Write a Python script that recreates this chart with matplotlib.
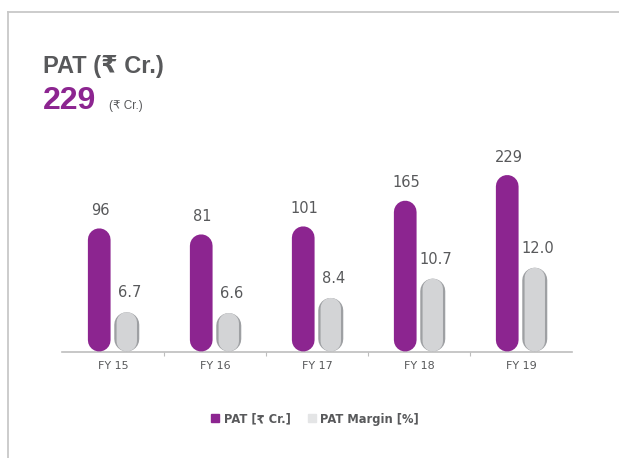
"""
PAT bar chart: PAT (Rs Cr.) vs PAT margin (%), FY15-FY19
- rounded pill bars drawn as thick lines with round caps
- saves out.png
"""
import matplotlib
matplotlib.use("Agg")
import matplotlib.pyplot as plt
from matplotlib.lines import Line2D

years = ["FY 15", "FY 16", "FY 17", "FY 18", "FY 19"]
pat = [96, 81, 101, 165, 229]
margin = [6.7, 6.6, 8.4, 10.7, 12.0]
pat_labels = ["96", "81", "101", "165", "229"]
margin_labels = ["6.7", "6.6", "8.4", "10.7", "12.0"]

PURPLE = "#8c2590"
GREY_FILL = "#d3d4d6"
GREY_EDGE = "#9ea0a3"
TEXT = "#58595b"
LABEL_FONT = ["DejaVu Sans"]

W, H = 619, 458
fig = plt.figure(figsize=(W / 100, H / 100), dpi=100)

def fx(px):
    return px / W

def fy(py):
    return 1 - py / H

# axes area in pixel terms (baseline at y=351.5)
left, right, bottom, top = 62, 572, 351.5, 100
ax = fig.add_axes([fx(left), fy(bottom), fx(right - left), (bottom - top) / H])
ax2 = ax.twinx()

ax.set_xlim(-0.5, 4.5)
ax.set_ylim(-211, 416)
ax2.set_ylim(2.02, 31.97)

for a in (ax, ax2):
    for s in a.spines.values():
        s.set_visible(False)
    a.set_yticks([])
ax.spines["bottom"].set_visible(True)
ax.spines["bottom"].set_color("#bdbdbd")
ax.spines["bottom"].set_linewidth(1.2)

x = list(range(len(years)))
ax.set_xticks([i + 0.5 for i in x[:-1]], minor=False)
ax.set_xticklabels([])
ax.tick_params(axis="x", which="major", length=3, color="#bdbdbd", width=0.8)
ax.set_xticks(x, minor=True)
ax.set_xticklabels(years, minor=True, fontsize=8, color=TEXT, family=LABEL_FONT)
ax.tick_params(axis="x", which="minor", length=0, pad=7)


def pill(a, xpos, value, width_px, color, zorder):
    y0, y1 = a.get_ylim()
    px_per_unit = a.bbox.height / (y1 - y0)
    r = (width_px / 2) / px_per_unit
    a.plot([xpos, xpos], [y0 + r, value - r], color=color,
           lw=width_px * 0.72, solid_capstyle="round", zorder=zorder,
           clip_on=False, snap=False)


off_p, off_g = -0.135, 0.135
for i in x:
    pill(ax, i + off_p, pat[i], 22.7, PURPLE, 3)
    ax.annotate(pat_labels[i], (i + off_p, pat[i]), xytext=(1, 7.5),
                textcoords="offset points", ha="center", va="bottom",
                fontsize=10.5, color=TEXT, family=LABEL_FONT)
    pill(ax2, i + off_g, margin[i], 25.0, GREY_EDGE, 3)
    pill(ax2, i + off_g, margin[i], 20.4, GREY_FILL, 4)
    ax2.annotate(margin_labels[i], (i + off_g, margin[i]), xytext=(2, 8.5),
                 textcoords="offset points", ha="center", va="bottom",
                 fontsize=10.5, color=TEXT, family=LABEL_FONT)

# heading
fig.text(fx(43), fy(73), "PAT (₹ Cr.)", fontsize=17, fontweight="bold",
         color=TEXT, family=["Liberation Sans", "DejaVu Sans"], va="baseline")
fig.text(fx(43), fy(109), "229", fontsize=23, fontweight="bold",
         color=PURPLE, family=["Liberation Sans", "DejaVu Sans"], va="baseline")
fig.text(fx(109), fy(108.5), "(₹ Cr.)", fontsize=8.5, color=TEXT,
         family=["Liberation Sans", "DejaVu Sans"], va="baseline")

# legend
handles = [
    Line2D([], [], marker="s", ls="", color=PURPLE, markersize=6),
    Line2D([], [], marker="s", ls="", color="#e4e5e6", markersize=6),
]
leg = fig.legend(handles, ["PAT [₹ Cr.]", "PAT Margin [%]"], ncol=2,
                 loc="center", bbox_to_anchor=(fx(315), fy(419)),
                 frameon=False, handlelength=0.8, handletextpad=0.3,
                 columnspacing=1.5, prop={"size": 8.3, "weight": "bold",
                                          "family": ["DejaVu Sans"]})
for t in leg.get_texts():
    t.set_color(TEXT)

# card border (top and left edges)
fig.add_artist(Line2D([fx(8), 1], [fy(12), fy(12)], color="#c8c8c8", lw=1.3))
fig.add_artist(Line2D([fx(8), fx(8)], [0, fy(12)], color="#c8c8c8", lw=1.3))

fig.savefig("out.png", dpi=100)
